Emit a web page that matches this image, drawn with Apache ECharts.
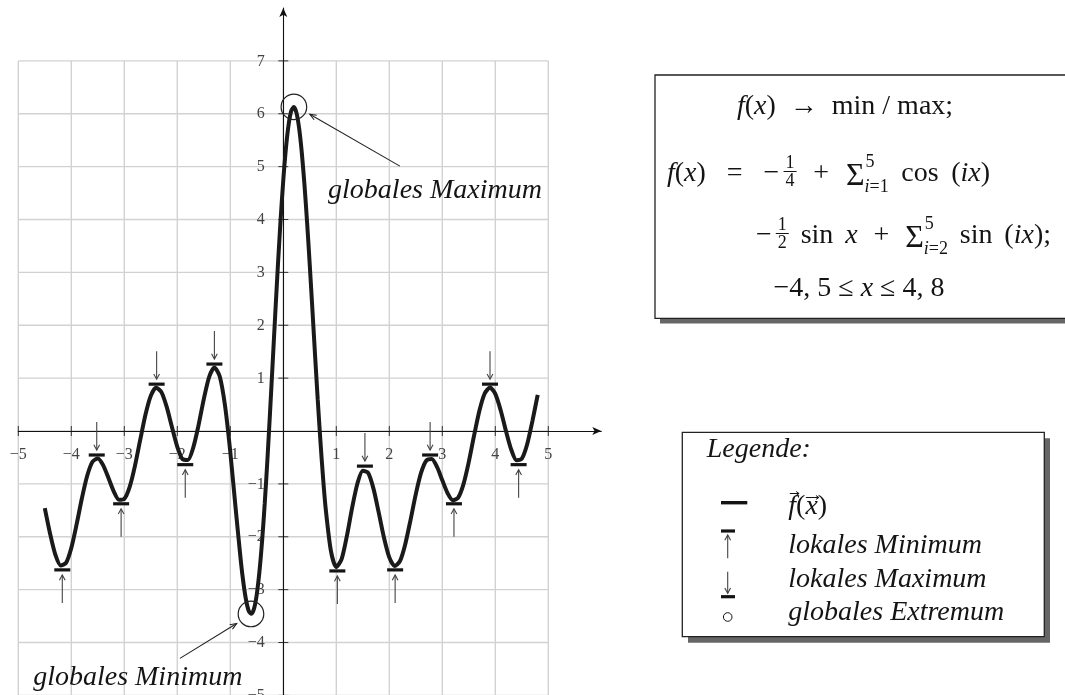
<!DOCTYPE html>
<html>
<head>
<meta charset="utf-8">
<script src="https://cdn.jsdelivr.net/npm/echarts@6/dist/echarts.min.js"></script>
<style>
  html, body { margin: 0; padding: 0; background: #ffffff; }
  #chart { width: 1065px; height: 695px; }
</style>
</head>
<body>
<div id="chart"></div>
<script>
// Sampled values of f(x) on -4.5 <= x <= 4.8 (denser around the central peak)
const xValues = [
  -4.5, -4.4, -4.3, -4.2, -4.1, -4.0, -3.9, -3.8, -3.7, -3.6, -3.5, -3.4, -3.3, -3.2, -3.1, -3.0,
  -2.9, -2.8, -2.7, -2.6, -2.5, -2.4, -2.3, -2.2, -2.1, -2.0, -1.9, -1.8, -1.7, -1.6, -1.5, -1.4,
  -1.3, -1.2, -1.1, -1.0, -0.9, -0.8,
  -0.75, -0.7, -0.65, -0.6, -0.55, -0.5, -0.45, -0.4, -0.35, -0.3, -0.25, -0.2, -0.15, -0.1, -0.05,
  0, 0.05, 0.1, 0.15, 0.2, 0.25, 0.3, 0.35, 0.4, 0.45, 0.5, 0.55, 0.6, 0.65, 0.7, 0.75,
  0.8, 0.9, 1.0, 1.1, 1.2, 1.3, 1.4, 1.5, 1.6, 1.7, 1.8, 1.9, 2.0, 2.1, 2.2, 2.3, 2.4, 2.5, 2.6,
  2.7, 2.8, 2.9, 3.0, 3.1, 3.2, 3.3, 3.4, 3.5, 3.6, 3.7, 3.8, 3.9, 4.0, 4.1, 4.2, 4.3, 4.4, 4.5,
  4.6, 4.7, 4.8
];
const fValues = [
  -1.457, -1.942, -2.341, -2.542, -2.494, -2.211, -1.767, -1.272, -0.846, -0.581, -0.520, -0.645, -0.886, -1.140, -1.299, -1.283,
  -1.062, -0.664, -0.169, 0.312, 0.668, 0.819, 0.736, 0.457, 0.071, -0.299, -0.533, -0.546, -0.316, 0.106, 0.603, 1.021,
  1.202, 1.035, 0.481, -0.400, -1.456, -2.473,
  -2.891, -3.210, -3.407, -3.457, -3.353, -3.086, -2.658, -2.079, -1.366, -0.544, 0.356, 1.300, 2.250, 3.166, 4.011,
  4.750, 5.352, 5.793, 6.054, 6.127, 6.012, 5.715, 5.253, 4.648, 3.929, 3.128, 2.281, 1.423, 0.587, -0.188, -0.882,
  -1.471, -2.278, -2.572, -2.423, -1.983, -1.443, -0.987, -0.750, -0.791, -1.085, -1.539, -2.018, -2.390, -2.552, -2.462, -2.144, -1.684, -1.193, -0.788,
  -0.556, -0.529, -0.680, -0.931, -1.176, -1.310, -1.260, -1.005, -0.584, -0.084, 0.384, 0.710, 0.821, 0.701, 0.397, 0.005, -0.350, -0.552, -0.524,
  -0.256, 0.188, 0.684
];

// Local extrema of f
const localMinX = [-4.17, -3.06, -1.85, 1.02, 2.11, 3.22, 4.44];
const localMinY = [-2.56, -1.31, -0.57, -2.58, -2.56, -1.31, -0.57];
const localMaxX = [-3.52, -2.39, -1.30, 1.54, 2.77, 3.90];
const localMaxY = [-0.52, 0.82, 1.20, -0.73, -0.52, 0.82];

// Global maximum and global minimum
const globalExtX = [0.20, -0.61];
const globalExtY = [6.13, -3.46];

// Tick values and grid lines
const xTicks = [-5, -4, -3, -2, -1, 1, 2, 3, 4, 5];
const yTicks = [-5, -4, -3, -2, -1, 1, 2, 3, 4, 5, 6, 7];
const gridX = [-5, -4, -3, -2, -1, 0, 1, 2, 3, 4, 5];
const gridY = [-5, -4, -3, -2, -1, 0, 1, 2, 3, 4, 5, 6, 7];

// Callout texts with their arrow layout (data coordinates)
const calloutTexts = ['globales Maximum', 'globales Minimum'];
const calloutLayout = [
  { label: [0.845, 4.55], from: [2.2, 5.01], to: [0.5, 5.99] },
  { label: [-4.72, -4.66], from: [-1.95, -4.30], to: [-0.88, -3.64] }
];

const SERIF = '"Liberation Serif", "Times New Roman", serif';
const INK = '#141414';

function minusText(v) { return v < 0 ? '\u2212' + Math.abs(v) : String(v); }

// Straight arrow with a light open head, tip at (x2, y2)
function arrowEls(x1, y1, x2, y2, color, lw, len, spread, z) {
  const a = Math.atan2(y2 - y1, x2 - x1);
  const b1 = [x2 - len * Math.cos(a - spread), y2 - len * Math.sin(a - spread)];
  const b2 = [x2 - len * Math.cos(a + spread), y2 - len * Math.sin(a + spread)];
  return [
    { type: 'line', z: z || 0, silent: true, shape: { x1: x1, y1: y1, x2: x2, y2: y2 }, style: { stroke: color, lineWidth: lw } },
    { type: 'polyline', z: z || 0, silent: true, shape: { points: [b1, [x2, y2], b2] }, style: { stroke: color, lineWidth: lw, fill: null } }
  ];
}

function richFor(size) {
  return {
    i: { fontFamily: SERIF, fontSize: size, fontStyle: 'italic', fill: INK },
    r: { fontFamily: SERIF, fontSize: size, fontStyle: 'normal', fill: INK }
  };
}
function T(x, y, text, size, align) {
  return {
    type: 'text', x: x, y: y, silent: true, z: 20,
    style: {
      text: text, fill: INK, fontFamily: SERIF, fontSize: size,
      align: align || 'left', verticalAlign: 'middle', rich: richFor(size)
    }
  };
}
function L(x1, y1, x2, y2, lw) {
  return { type: 'line', silent: true, z: 20, shape: { x1: x1, y1: y1, x2: x2, y2: y2 }, style: { stroke: INK, lineWidth: lw || 1 } };
}
function R(x, y, w, h, fill, stroke, z) {
  return {
    type: 'rect', silent: true, z: z, shape: { x: x, y: y, width: w, height: h },
    style: { fill: fill, stroke: stroke || null, lineWidth: stroke ? 1.3 : 0 }
  };
}

// Text measuring for the formula layout
const measureCtx = document.createElement('canvas').getContext('2d');
function partsWidth(parts, size) {
  let w = 0;
  parts.forEach(function (p) {
    measureCtx.font = (p[1] ? 'italic ' : '') + size + 'px ' + SERIF;
    w += measureCtx.measureText(p[0]).width;
  });
  return w;
}
function partsRich(parts) {
  return parts.map(function (p) { return '{' + (p[1] ? 'i' : 'r') + '|' + p[0] + '}'; }).join('');
}

// Lays out one formula line between x0 and xEnd; spacing tokens share the free room
function formulaLine(tokens, x0, xEnd, base) {
  const MAIN = 28, SMALL = 18;
  let glyphs = 0, mu = 0;
  const widths = tokens.map(function (tk) {
    let w = 0;
    if (tk.sp) { mu += tk.sp; return 0; }
    if (tk.t) w = partsWidth(tk.t, MAIN);
    else if (tk.frac) w = Math.max(partsWidth([[tk.frac[0], 0]], SMALL), partsWidth([[tk.frac[1], 0]], SMALL)) + 4;
    else if (tk.sum) w = partsWidth([['\u03A3', 0]], 32);
    else if (tk.lim) w = Math.max(partsWidth(tk.lim[0], SMALL), partsWidth(tk.lim[1], SMALL));
    glyphs += w;
    return w;
  });
  const unit = mu > 0 ? (xEnd - x0 - glyphs) / mu : 0;
  const els = [];
  let x = x0;
  tokens.forEach(function (tk, i) {
    if (tk.sp) { x += tk.sp * unit; return; }
    const w = widths[i];
    if (tk.t) els.push(T(x, base - 9.5, partsRich(tk.t), MAIN));
    else if (tk.frac) {
      els.push(T(x + w / 2, base - 20, '{r|' + tk.frac[0] + '}', SMALL, 'center'));
      els.push(L(x, base - 11.5, x + w, base - 11.5, 1));
      els.push(T(x + w / 2, base - 1.5, '{r|' + tk.frac[1] + '}', SMALL, 'center'));
    } else if (tk.sum) els.push(T(x, base - 6, '{r|\u03A3}', 32));
    else if (tk.lim) {
      els.push(T(x + 1, base - 21, partsRich(tk.lim[0]), SMALL));
      els.push(T(x, base + 4, partsRich(tk.lim[1]), SMALL));
    }
    x += w;
  });
  return els;
}

const line2 = [
  { t: [['f', 1], ['(', 0], ['x', 1], [')', 0]] }, { sp: 5 }, { t: [['=', 0]] }, { sp: 5 },
  { t: [['\u2212', 0]] }, { sp: 1 }, { frac: ['1', '4'] }, { sp: 4 }, { t: [['+', 0]] }, { sp: 4 },
  { sum: true }, { lim: [[['5', 0]], [['i', 1], ['=1', 0]]] }, { sp: 3 },
  { t: [['cos', 0]] }, { sp: 3 }, { t: [['(', 0], ['ix', 1], [')', 0]] }
];
const line3 = [
  { t: [['\u2212', 0]] }, { sp: 1 }, { frac: ['1', '2'] }, { sp: 3 }, { t: [['sin', 0]] }, { sp: 3 },
  { t: [['x', 1]] }, { sp: 4 }, { t: [['+', 0]] }, { sp: 4 },
  { sum: true }, { lim: [[['5', 0]], [['i', 1], ['=2', 0]]] }, { sp: 3 },
  { t: [['sin', 0]] }, { sp: 3 }, { t: [['(', 0], ['ix', 1], [');', 0]] }
];

// Formula panel
const formulaPanel = [
  R(660, 80, 420, 243.5, '#666666', null, 15),
  R(655, 75, 420, 243.3, '#ffffff', '#222222', 16),
  T(845, 106.5, '{i|f}{r|(}{i|x}{r|)  \u2192  min / max;}', 28, 'center')
].concat(
  formulaLine(line2, 667, 990, 183),
  formulaLine(line3, 756, 1051, 245),
  [T(859, 288.5, '{r|\u22124, 5 \u2264 }{i|x}{r| \u2264 4, 8}', 28, 'center')]
);

// Legend panel
const fW = partsWidth([['f', 1]], 28);
const pW = partsWidth([['(', 0]], 28);
const xW = partsWidth([['x', 1]], 28);
const legendX = 788.3;
const legendPanel = [
  R(688, 438.3, 362, 204.4, '#666666', null, 15),
  R(682.3, 432.3, 362, 204.4, '#ffffff', '#222222', 16),
  T(706.7, 449.5, '{i|Legende:}', 28),
  R(721, 501, 26.3, 3.4, INK, null, 20),
  T(legendX, 506.5, '{i|f}{r|(}{i|x}{r|)}', 28)
].concat(
  arrowEls(legendX + 1.5, 493.5, legendX + fW + 3, 493.5, INK, 1, 3.5, 0.6, 20),
  arrowEls(legendX + fW + pW + 0.5, 497.5, legendX + fW + pW + xW + 1, 497.5, INK, 1, 3.5, 0.6, 20),
  [R(721, 529.4, 14, 3.2, INK, null, 20)],
  arrowEls(727.7, 558.3, 727.7, 535, '#444444', 1.1, 6, 0.5, 20),
  [T(legendX, 545.5, '{i|lokales Minimum}', 28)],
  arrowEls(727.7, 571.7, 727.7, 593.3, '#444444', 1.1, 6, 0.5, 20),
  [R(721, 595.1, 14, 3.2, INK, null, 20),
   T(legendX, 579.5, '{i|lokales Maximum}', 28),
   { type: 'circle', silent: true, z: 20, shape: { cx: 727.7, cy: 617, r: 4.3 }, style: { fill: null, stroke: INK, lineWidth: 1 } },
   T(legendX, 612.5, '{i|globales Extremum}', 28)]
);

const chart = echarts.init(document.getElementById('chart'), null, { renderer: 'canvas' });

const option = {
  animation: false,
  backgroundColor: '#ffffff',
  grid: { left: 18.3, top: 8, width: 583, height: 687.4, containLabel: false, outerBoundsMode: 'none' },
  xAxis: {
    type: 'value', min: -5, max: 6, interval: 1, z: 3,
    axisLine: { onZero: true, symbol: ['none', 'arrow'], symbolSize: [6, 9], lineStyle: { color: '#111111', width: 1.1 } },
    axisTick: { show: false },
    axisLabel: { show: false },
    splitLine: { show: false }
  },
  yAxis: {
    type: 'value', min: -5, max: 8, interval: 1, z: 3,
    axisLine: { onZero: true, symbol: ['none', 'arrow'], symbolSize: [6, 9], lineStyle: { color: '#111111', width: 1.1 } },
    axisTick: { show: false },
    axisLabel: { show: false },
    splitLine: { show: false }
  },
  graphic: { elements: formulaPanel.concat(legendPanel) },
  series: [
    { // vertical grid lines
      type: 'custom', silent: true, z: 1,
      data: gridX.map(function (v) { return [v, 0]; }),
      renderItem: function (params, api) {
        const x = api.value(0);
        const p1 = api.coord([x, 7]);
        const p2 = api.coord([x, -5]);
        return { type: 'line', shape: { x1: p1[0], y1: p1[1], x2: p2[0], y2: p2[1] }, style: { stroke: '#d2d2d2', lineWidth: 1.4 } };
      }
    },
    { // horizontal grid lines
      type: 'custom', silent: true, z: 1,
      data: gridY.map(function (v) { return [0, v]; }),
      renderItem: function (params, api) {
        const y = api.value(1);
        const p1 = api.coord([-5, y]);
        const p2 = api.coord([5, y]);
        return { type: 'line', shape: { x1: p1[0], y1: p1[1], x2: p2[0], y2: p2[1] }, style: { stroke: '#d2d2d2', lineWidth: 1.4 } };
      }
    },
    { // ticks and labels on the x axis
      type: 'custom', silent: true, z: 3,
      data: xTicks.map(function (v) { return [v, 0]; }),
      renderItem: function (params, api) {
        const v = api.value(0);
        const p = api.coord([v, 0]);
        return {
          type: 'group',
          children: [
            { type: 'line', shape: { x1: p[0], y1: p[1] - 5, x2: p[0], y2: p[1] + 5 }, style: { stroke: '#333333', lineWidth: 1 } },
            { type: 'text', x: p[0], y: p[1] + 24, style: { text: minusText(v), fontFamily: SERIF, fontSize: 16, fill: '#444444', align: 'center', verticalAlign: 'middle' } }
          ]
        };
      }
    },
    { // ticks and labels on the y axis
      type: 'custom', silent: true, z: 3,
      data: yTicks.map(function (v) { return [0, v]; }),
      renderItem: function (params, api) {
        const v = api.value(1);
        const p = api.coord([0, v]);
        return {
          type: 'group',
          children: [
            { type: 'line', shape: { x1: p[0] - 5, y1: p[1], x2: p[0] + 5, y2: p[1] }, style: { stroke: '#333333', lineWidth: 1 } },
            { type: 'text', x: p[0] - 18.5, y: p[1] + 0.5, style: { text: minusText(v), fontFamily: SERIF, fontSize: 16, fill: '#444444', align: 'right', verticalAlign: 'middle' } }
          ]
        };
      }
    },
    { // the function curve
      type: 'line', silent: true, z: 4,
      data: xValues.map(function (x, i) { return [x, fValues[i]]; }),
      smooth: 0.25, showSymbol: false, symbol: 'none',
      lineStyle: { color: '#1a1a1a', width: 4 }
    },
    { // local minima: bar below, arrow pointing up
      type: 'custom', silent: true, z: 5,
      data: localMinX.map(function (x, i) { return [x, localMinY[i]]; }),
      renderItem: function (params, api) {
        const p = api.coord([api.value(0), api.value(1)]);
        const bar = p[1] + 3.5;
        return {
          type: 'group',
          children: [{ type: 'rect', shape: { x: p[0] - 8, y: bar - 1.6, width: 16, height: 3.2 }, style: { fill: INK } }]
            .concat(arrowEls(p[0], bar + 33, p[0], bar + 5, '#444444', 1.1, 6, 0.5))
        };
      }
    },
    { // local maxima: bar above, arrow pointing down
      type: 'custom', silent: true, z: 5,
      data: localMaxX.map(function (x, i) { return [x, localMaxY[i]]; }),
      renderItem: function (params, api) {
        const p = api.coord([api.value(0), api.value(1)]);
        const bar = p[1] - 3.5;
        return {
          type: 'group',
          children: [{ type: 'rect', shape: { x: p[0] - 8, y: bar - 1.6, width: 16, height: 3.2 }, style: { fill: INK } }]
            .concat(arrowEls(p[0], bar - 33, p[0], bar - 5, '#444444', 1.1, 6, 0.5))
        };
      }
    },
    { // circles around the global extrema
      type: 'custom', silent: true, z: 5,
      data: globalExtX.map(function (x, i) { return [x, globalExtY[i]]; }),
      renderItem: function (params, api) {
        const p = api.coord([api.value(0), api.value(1)]);
        return { type: 'circle', shape: { cx: p[0], cy: p[1], r: 12.8 }, style: { fill: null, stroke: '#222222', lineWidth: 1.2 } };
      }
    },
    { // callouts for the global extrema
      type: 'custom', silent: true, z: 6,
      data: calloutLayout.map(function (c, i) { return [c.label[0], c.label[1], i]; }),
      renderItem: function (params, api) {
        const k = api.value(2);
        const c = calloutLayout[k];
        const lp = api.coord([api.value(0), api.value(1)]);
        const a = api.coord(c.from);
        const b = api.coord(c.to);
        return {
          type: 'group',
          children: arrowEls(a[0], a[1], b[0], b[1], '#222222', 1.1, 7, 0.38).concat([{
            type: 'text', x: lp[0], y: lp[1],
            style: { text: calloutTexts[k], fontFamily: SERIF, fontSize: 28, fontStyle: 'italic', fill: INK, align: 'left', verticalAlign: 'middle' }
          }])
        };
      }
    }
  ]
};

chart.setOption(option);
</script>
</body>
</html>
